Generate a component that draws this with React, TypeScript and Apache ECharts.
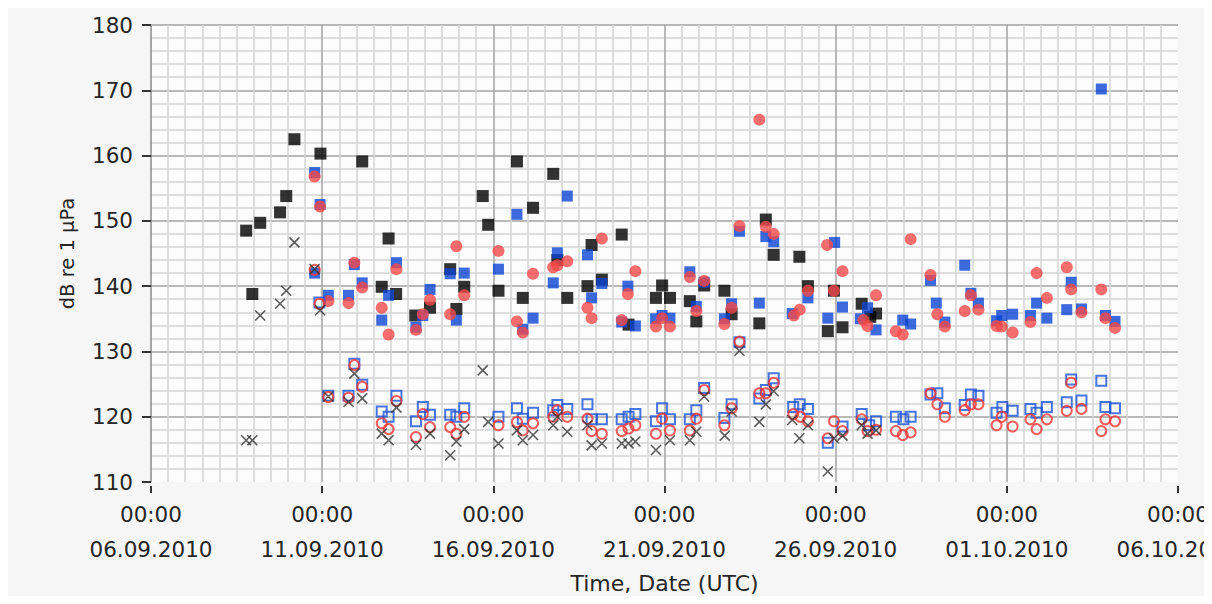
import React, { useEffect, useRef } from "react";
import * as echarts from "echarts";

// x = days since 06.09.2010 00:00 UTC, y = dB re 1 µPa
const START_UTC = Date.UTC(2010, 8, 6);
const xTicksDays = [0, 5, 10, 15, 20, 25, 30];
const yTicks = [110, 120, 130, 140, 150, 160, 170, 180];

const blackSquares: [number, number][] = [
  [2.78, 148.5], [2.96, 138.8], [3.19, 149.7], [3.77, 151.3], [3.95, 153.8], [4.19, 162.5],
  [4.95, 160.3], [6.17, 159.1], [6.74, 139.9], [6.94, 147.3], [7.16, 138.8], [7.72, 135.5],
  [8.15, 136.7], [8.74, 142.6], [8.92, 136.5], [9.15, 139.9], [9.69, 153.8], [9.85, 149.4],
  [10.15, 139.3], [10.69, 159.1], [10.86, 138.2], [11.16, 152.0], [11.75, 157.2], [11.87, 144.0],
  [12.16, 138.2], [12.75, 140.0], [12.87, 146.3], [13.17, 141.0], [13.75, 147.9], [13.95, 134.1],
  [14.75, 138.2], [14.93, 140.1], [15.16, 138.2], [15.74, 137.7], [15.93, 134.6], [16.16, 140.1],
  [16.75, 139.3], [16.96, 135.7], [17.77, 134.3], [17.96, 150.2], [18.19, 144.8], [18.94, 144.5],
  [19.19, 140.0], [19.77, 133.1], [19.95, 139.3], [20.2, 133.7], [20.76, 137.3], [21.01, 135.3],
  [21.18, 135.8],
];

const blueSquares: [number, number][] = [
  [4.78, 157.4], [4.94, 152.5], [4.78, 142.0], [5.18, 138.6], [5.77, 138.6], [5.94, 143.3],
  [6.17, 140.5], [6.74, 134.8], [6.94, 138.6], [7.17, 143.6], [7.74, 133.7], [7.94, 135.5],
  [8.15, 139.5], [8.74, 141.9], [8.92, 134.8], [9.15, 142.0], [10.15, 142.6], [10.69, 151.0],
  [10.86, 133.4], [11.16, 135.1], [11.75, 140.5], [11.87, 145.1], [12.16, 153.8], [12.75, 144.8],
  [12.87, 138.2], [13.17, 140.4], [13.75, 134.5], [13.93, 140.0], [14.15, 133.9], [14.74, 135.0],
  [14.93, 135.5], [15.16, 135.1], [15.74, 142.2], [15.93, 136.9], [16.16, 140.6], [16.75, 135.0],
  [16.96, 137.3], [17.19, 148.4], [17.77, 137.4], [17.96, 147.6], [18.19, 146.8], [18.73, 135.8],
  [19.19, 138.2], [19.77, 135.1], [19.97, 146.7], [20.2, 136.8], [20.72, 135.0], [20.93, 136.7],
  [21.18, 133.3], [21.96, 134.8], [22.19, 134.2], [22.77, 140.9], [22.94, 137.4], [23.19, 134.5],
  [23.77, 143.2], [23.95, 138.9], [24.17, 137.4], [24.7, 134.7], [24.85, 135.5], [25.17, 135.7],
  [25.69, 135.5], [25.87, 137.4], [26.17, 135.1], [26.75, 136.4], [26.88, 140.6], [27.18, 136.5],
  [27.76, 170.2], [27.88, 135.5], [28.16, 134.6],
];

const redCircles: [number, number][] = [
  [4.78, 156.8], [4.94, 152.2], [5.18, 137.7], [5.77, 137.4], [5.94, 143.6], [6.17, 139.8],
  [6.74, 136.7], [6.94, 132.6], [7.17, 142.6], [7.74, 133.3], [7.94, 135.7], [8.15, 137.9],
  [8.74, 135.7], [8.92, 146.1], [9.15, 138.6], [10.15, 145.4], [10.69, 134.6], [10.86, 132.9],
  [11.16, 141.9], [11.75, 142.9], [11.87, 143.2], [12.16, 143.8], [12.75, 136.7], [12.87, 135.1],
  [13.17, 147.3], [13.75, 134.8], [13.93, 138.8], [14.15, 142.3], [14.75, 133.8], [14.93, 135.1],
  [15.16, 133.8], [15.74, 141.4], [15.93, 136.2], [16.16, 140.8], [16.75, 134.2], [16.96, 136.7],
  [17.19, 149.2], [17.77, 165.5], [17.96, 149.1], [18.19, 148.0], [18.78, 135.5], [18.95, 136.4],
  [19.19, 139.3], [19.75, 146.3], [19.95, 139.3], [20.2, 142.3], [20.81, 134.8], [20.93, 133.9],
  [21.18, 138.6], [21.76, 133.1], [21.96, 132.6], [22.19, 147.2], [22.77, 141.7], [22.97, 135.7],
  [23.19, 133.8], [23.77, 136.2], [23.95, 138.6], [24.17, 136.4], [24.7, 133.9], [24.85, 133.8],
  [25.17, 132.9], [25.69, 134.5], [25.87, 142.0], [26.17, 138.2], [26.75, 142.9], [26.88, 139.5],
  [27.18, 136.0], [27.76, 139.5], [27.88, 135.1], [28.16, 133.6],
];

const blueHollow: [number, number][] = [
  [4.92, 137.5], [5.18, 123.2], [5.77, 123.2], [5.94, 128.1], [6.17, 124.9], [6.74, 120.8],
  [6.94, 120.0], [7.17, 123.2], [7.74, 119.3], [7.94, 121.5], [8.15, 120.3], [8.74, 120.3],
  [8.92, 120.0], [9.15, 121.3], [10.15, 120.0], [10.69, 121.3], [10.86, 119.7], [11.16, 120.6],
  [11.75, 121.0], [11.87, 121.8], [12.16, 121.2], [12.75, 121.9], [12.87, 119.6], [13.17, 119.6],
  [13.75, 119.6], [13.95, 120.0], [14.15, 120.4], [14.75, 119.3], [14.93, 121.3], [15.16, 119.6],
  [15.74, 119.6], [15.93, 121.0], [16.16, 124.4], [16.75, 119.8], [16.96, 121.9], [17.19, 131.4],
  [17.77, 122.8], [17.96, 124.1], [18.19, 125.9], [18.76, 121.5], [18.95, 121.9], [19.19, 121.2],
  [19.77, 116.0], [20.2, 118.5], [20.76, 120.4], [20.98, 118.7], [21.18, 119.3], [21.76, 120.0],
  [21.98, 119.6], [22.19, 120.0], [22.77, 123.4], [22.97, 123.6], [23.19, 121.3], [23.77, 121.8],
  [23.95, 123.4], [24.17, 123.2], [24.7, 120.6], [24.87, 121.5], [25.17, 120.9], [25.69, 121.2],
  [25.87, 120.6], [26.17, 121.5], [26.75, 122.2], [26.88, 125.7], [27.18, 122.5], [27.76, 125.5],
  [27.88, 121.5], [28.16, 121.3],
];

const redHollow: [number, number][] = [
  [4.92, 137.3], [4.78, 142.5], [5.18, 123.0], [5.77, 122.9], [5.94, 127.9], [6.17, 124.6],
  [6.74, 119.0], [6.94, 118.1], [7.17, 122.4], [7.74, 116.9], [7.94, 120.4], [8.15, 118.4],
  [8.74, 118.4], [8.92, 117.4], [9.15, 120.0], [10.15, 118.7], [10.69, 119.2], [10.86, 117.9],
  [11.16, 119.0], [11.75, 120.0], [11.87, 121.0], [12.16, 120.0], [12.75, 119.7], [12.87, 117.8],
  [13.17, 117.4], [13.75, 117.8], [13.95, 118.2], [14.15, 118.7], [14.75, 117.4], [14.93, 119.7],
  [15.16, 117.9], [15.74, 117.9], [15.93, 119.7], [16.16, 124.1], [16.75, 118.7], [16.96, 121.3],
  [17.19, 131.5], [17.77, 123.6], [17.96, 123.6], [18.19, 125.2], [18.76, 120.4], [18.97, 120.0],
  [19.19, 119.3], [19.77, 116.7], [19.95, 119.3], [20.2, 117.8], [20.76, 119.6], [20.93, 117.8],
  [21.18, 118.0], [21.76, 117.8], [21.96, 117.2], [22.19, 117.6], [22.77, 123.6], [22.97, 121.9],
  [23.19, 120.0], [23.77, 121.0], [23.95, 121.9], [24.17, 121.9], [24.7, 118.7], [24.85, 120.0],
  [25.17, 118.5], [25.69, 119.6], [25.87, 118.1], [26.17, 119.6], [26.75, 120.9], [26.88, 125.2],
  [27.18, 121.2], [27.76, 117.8], [27.88, 119.6], [28.16, 119.3],
];

const blackCrosses: [number, number][] = [
  [2.78, 116.4], [2.96, 116.4], [3.19, 135.5], [3.77, 137.3], [3.95, 139.3], [4.19, 146.7],
  [4.78, 142.6], [4.94, 136.3], [5.18, 123.1], [5.77, 122.3], [5.94, 126.6], [6.17, 122.8],
  [6.74, 117.4], [6.94, 116.4], [7.17, 121.4], [7.74, 115.7], [8.15, 117.4], [8.74, 114.1],
  [8.92, 116.2], [9.15, 118.1], [9.69, 127.1], [9.85, 119.2], [10.15, 115.9], [10.69, 117.9],
  [10.86, 116.4], [11.16, 117.2], [11.75, 118.7], [11.87, 120.0], [12.16, 117.7], [12.75, 118.7],
  [12.87, 115.6], [13.17, 115.9], [13.75, 115.9], [13.95, 115.9], [14.15, 116.2], [14.75, 114.9],
  [15.16, 116.4], [15.74, 116.4], [15.93, 117.7], [16.16, 123.1], [16.76, 117.1], [16.96, 120.8],
  [17.19, 130.1], [17.77, 119.2], [17.96, 121.9], [18.19, 123.9], [18.73, 119.5], [18.94, 116.7],
  [19.19, 118.7], [19.77, 111.6], [19.95, 116.7], [20.2, 117.1], [20.76, 118.7], [20.93, 117.4],
  [21.18, 117.9],
];

const FONT = "'DejaVu Sans', Verdana, sans-serif";
const pad = (n: number) => (n < 10 ? "0" + n : "" + n);
const dayLabel = (v: number) => {
  const d = new Date(START_UTC + v * 86400000);
  return "00:00\n" + pad(d.getUTCDate()) + "." + pad(d.getUTCMonth() + 1) + "." + d.getUTCFullYear();
};

export default function App() {
  const ref = useRef<HTMLDivElement>(null);
  useEffect(() => {
    if (!ref.current) return;
    const chart = echarts.init(ref.current, undefined, { renderer: "svg" });
    const major = "#a3a3a3";
    const minor = "#d5d5d5";
    const xSplitColors = xTicksDays.map((_, i) =>
      i === 0 ? "#8a8a8a" : i === xTicksDays.length - 1 ? "rgba(0,0,0,0)" : major
    );
    const ySplitColors = yTicks.map((_, i) => (i === 0 ? "rgba(0,0,0,0)" : major));
    const base = { type: "scatter", silent: true, emphasis: { disabled: true } };
    chart.setOption({
      animation: false,
      backgroundColor: "#f6f6f6",
      textStyle: { fontFamily: FONT },
      grid: {
        left: 143,
        right: 26,
        top: 17,
        bottom: 114,
        show: true,
        backgroundColor: "#fcfcfc",
        borderWidth: 0,
        containLabel: false,
        outerBoundsMode: "none",
      },
      xAxis: {
        type: "value",
        min: xTicksDays[0],
        max: xTicksDays[xTicksDays.length - 1],
        interval: 5,
        offset: 4,
        axisLine: { show: false },
        axisTick: { show: true, length: 7, lineStyle: { color: "#333", width: 2 } },
        axisLabel: {
          formatter: dayLabel,
          fontFamily: FONT,
          fontSize: 21.5,
          lineHeight: 35,
          color: "#262626",
          margin: 11,
          showMaxLabel: true,
          showMinLabel: true,
        },
        splitLine: { show: true, lineStyle: { color: xSplitColors, width: 1.5 } },
        minorTick: { show: false, splitNumber: 10 },
        minorSplitLine: { show: true, lineStyle: { color: minor, width: 1.5 } },
        name: "Time, Date (UTC)",
        nameLocation: "middle",
        nameGap: 83,
        nameTextStyle: { fontFamily: FONT, fontSize: 22, lineHeight: 24, color: "#262626" },
      },
      yAxis: {
        type: "value",
        min: yTicks[0],
        max: yTicks[yTicks.length - 1],
        interval: 10,
        offset: 4,
        axisLine: { show: false },
        axisTick: { show: true, length: 9, lineStyle: { color: "#333", width: 2 } },
        axisLabel: { fontFamily: FONT, fontSize: 21.5, color: "#262626", margin: 14 },
        splitLine: { show: true, lineStyle: { color: ySplitColors, width: 1.5 } },
        minorTick: { show: false, splitNumber: 5 },
        minorSplitLine: { show: true, lineStyle: { color: minor, width: 1.5 } },
        name: "dB re 1 µPa",
        nameLocation: "middle",
        nameRotate: 90,
        nameGap: 70,
        nameTextStyle: { fontFamily: FONT, fontSize: 19.5, color: "#262626" },
      },
      series: [
        { ...base, name: "black", data: blackSquares, symbol: "rect", symbolSize: 12, itemStyle: { color: "#000" } },
        { ...base, name: "blue", data: blueSquares, symbol: "rect", symbolSize: 11, itemStyle: { color: "#0b45d4" } },
        { ...base, name: "red", data: redCircles, symbol: "circle", symbolSize: 12, itemStyle: { color: "#f44848" } },
        {
          ...base, name: "blueHollow", data: blueHollow, symbol: "rect", symbolSize: 10,
          itemStyle: { color: "rgba(0,0,0,0)", borderColor: "#1a52d8", borderWidth: 2 },
        },
        {
          ...base, name: "redHollow", data: redHollow, symbol: "circle", symbolSize: 10,
          itemStyle: { color: "rgba(0,0,0,0)", borderColor: "#f03636", borderWidth: 2 },
        },
        {
          ...base, name: "cross", data: blackCrosses, symbol: "path://M0,0L10,10M10,0L0,10", symbolSize: 10,
          itemStyle: { color: "rgba(0,0,0,0)", borderColor: "#333", borderWidth: 1.6 },
        },
      ],
    });
    return () => chart.dispose();
  }, []);
  return <div ref={ref} style={{ width: 1196, height: 588 }} />;
}
